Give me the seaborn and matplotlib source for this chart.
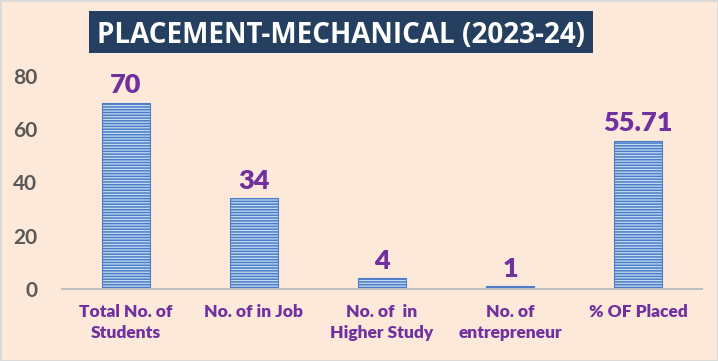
import matplotlib
matplotlib.use("Agg")
import matplotlib.pyplot as plt
import seaborn as sns
import pandas as pd
from matplotlib.patches import Rectangle

# données
categories = ["Total No. of\nStudents", "No. of in Job", "No. of  in\nHigher Study",
              "No. of\nentrepreneur", "% OF Placed"]
values = [70, 34, 4, 1, 55.71]
yticks = [0, 20, 40, 60, 80]
title = "PLACEMENT-MECHANICAL (2023-24)"

bg = "#FDE9D9"
purple = "#7030A0"
grey = "#595959"

sns.set_theme(style="white")
plt.rcParams["font.family"] = ["Lato", "DejaVu Sans"]
plt.rcParams["hatch.linewidth"] = 1.1
plt.rcParams["hatch.color"] = "#4A7CC7"

df = pd.DataFrame({"cat": categories, "val": values})

fig = plt.figure(figsize=(7.18, 3.61), dpi=100, facecolor=bg)
ax = fig.add_axes([62 / 718, 72 / 361, 640 / 718, 213 / 361])
ax.set_facecolor(bg)

sns.barplot(data=df, x="cat", y="val", ax=ax, color="#C5DCF0", width=0.38,
            edgecolor="#4A7CC7", linewidth=0.8, saturation=1)
for p in ax.patches:
    p.set_hatch("------")

labels = [f"{v:g}" for v in values]
ax.bar_label(ax.containers[0], labels=labels, padding=4, color=purple,
             fontsize=19.5, fontweight="heavy", clip_on=False)

ax.set_xlim(-0.5, 4.5)
ax.set_ylim(0, 80)
ax.set_yticks(yticks)
ax.set_xlabel("")
ax.set_ylabel("")
for s in ["top", "right", "left"]:
    ax.spines[s].set_visible(False)
ax.spines["bottom"].set_color("#BFBFBF")
ax.spines["bottom"].set_linewidth(1.5)
ax.tick_params(axis="y", length=0, pad=18, labelsize=15, labelcolor=grey)
ax.tick_params(axis="x", length=0, pad=11, labelsize=12.5, labelcolor=purple)
for t in ax.get_yticklabels():
    t.set_fontweight("bold")
for t in ax.get_xticklabels():
    t.set_fontweight("heavy")
    t.set_linespacing(1.4)

# bandeau du titre
fig.add_artist(Rectangle((89 / 718, 1 - 53 / 361), 504 / 718, 42 / 361,
                         transform=fig.transFigure, facecolor="#243F60",
                         edgecolor="none"))
fig.text(341 / 718, 1 - 32 / 361, title, ha="center", va="center_baseline",
         color="white", fontsize=20, fontweight="bold",
         family=["Open Sans", "DejaVu Sans"])

fig.add_artist(Rectangle((0, 0), 1, 1, transform=fig.transFigure, fill=False,
                         edgecolor="#D9D9D9", linewidth=2))

fig.savefig("out.png", dpi=100, facecolor=bg)
